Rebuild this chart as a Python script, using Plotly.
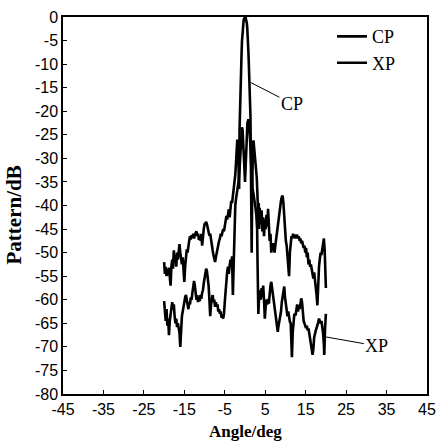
import plotly.graph_objects as go

# ---------------- data ----------------
cp_angle = [
    -20.0, -19.8, -19.6, -19.4, -19.2, -19.0, -18.8, -18.6, -18.4, -18.2,
    -18.0, -17.8, -17.6, -17.4, -17.2, -17.0, -16.8, -16.6, -16.4, -16.2,
    -16.0, -15.8, -15.6, -15.4, -15.2, -15.0, -14.8, -14.6, -14.4, -14.2,
    -14.0, -13.8, -13.6, -13.4, -13.2, -13.0, -12.8, -12.6, -12.4, -12.2,
    -12.0, -11.8, -11.6, -11.4, -11.2, -11.0, -10.8, -10.6, -10.4, -10.2,
    -10.0, -9.8, -9.6, -9.4, -9.2, -9.0, -8.8, -8.6, -8.4, -8.2,
    -8.0, -7.8, -7.6, -7.4, -7.2, -7.0, -6.8, -6.6, -6.4, -6.2,
    -6.0, -5.8, -5.6, -5.4, -5.2, -5.0, -4.8, -4.6, -4.4, -4.2,
    -4.0, -3.8, -3.6, -3.4, -3.2, -3.0, -2.8, -2.6, -2.4, -2.2,
    -2.0, -1.9, -1.75, -1.6, -1.45, -1.35, -1.25, -1.15, -1.05, -0.95,
    -0.85, -0.75, -0.65, -0.55, -0.45, -0.35, -0.25, -0.15, -0.05, 0.05,
    0.15, 0.25, 0.35, 0.45, 0.55, 0.65, 0.75, 0.85, 0.95, 1.05,
    1.15, 1.25, 1.35, 1.45, 1.55, 1.65, 1.75, 1.85, 1.95, 2.1,
    2.3, 2.5, 2.7, 2.9, 3.0, 3.1, 3.2, 3.3, 3.4, 3.5,
    3.6, 3.7, 3.9, 4.1, 4.3, 4.5, 4.7, 4.9, 5.1, 5.3,
    5.5, 5.7, 5.9, 6.1, 6.3, 6.5, 6.7, 6.9, 7.1, 7.3,
    7.5, 7.7, 7.9, 8.1, 8.3, 8.5, 8.7, 8.9, 9.1, 9.3,
    9.5, 9.7, 9.9, 10.1, 10.3, 10.5, 10.7, 10.9, 11.1, 11.3,
    11.5, 11.7, 11.9, 12.1, 12.3, 12.5, 12.7, 12.9, 13.1, 13.3,
    13.5, 13.7, 13.9, 14.1, 14.3, 14.5, 14.7, 14.9, 15.1, 15.3,
    15.5, 15.7, 15.9, 16.1, 16.3, 16.5, 16.7, 16.9, 17.1, 17.3,
    17.5, 17.7, 17.9, 18.1, 18.3, 18.5, 18.7, 18.9, 19.1, 19.3,
    19.5, 19.7, 19.85, 20.0,
]
cp_db = [
    -52.0, -54.5, -53.0, -55.0, -53.5, -54.8, -53.2, -55.5, -57.0, -53.0,
    -51.5, -53.4, -49.5, -52.0, -50.5, -53.0, -50.0, -51.5, -49.0, -48.2,
    -50.0, -51.0, -52.5, -51.0, -53.5, -56.2, -53.0, -50.5, -49.3, -50.0,
    -48.0, -47.5, -46.5, -47.2, -46.3, -46.8, -46.0, -47.0, -46.2, -45.8,
    -45.5, -46.5, -46.0, -47.3, -46.5, -47.5, -46.0, -48.5, -46.0, -45.0,
    -44.0, -43.6, -43.5, -44.0, -44.8, -45.5, -46.4, -46.0, -47.5, -48.5,
    -49.5, -50.5, -51.5, -52.0, -51.0, -50.0, -49.8, -48.5, -47.5, -47.0,
    -46.0, -46.5, -45.5, -45.0, -45.5, -44.0, -43.5, -42.2, -43.0, -41.5,
    -40.8, -42.5, -40.0, -39.0, -39.5, -37.5, -36.0, -35.0, -33.5, -30.5,
    -27.5, -26.0, -27.0, -30.0, -36.5, -24.0, -19.0, -16.0, -13.0, -10.5,
    -7.8, -5.2, -3.5, -2.3, -1.4, -0.8, -0.4, -0.15, -0.02, 0.0,
    -0.1, -0.35, -0.75, -1.3, -2.2, -3.4, -5.0, -7.5, -10.0, -12.5,
    -14.8, -17.0, -21.0, -30.0, -40.0, -50.0, -40.0, -31.0, -27.0, -26.2,
    -28.0, -30.0, -32.0, -34.0, -36.0, -40.0, -37.5, -43.0, -39.5, -45.0,
    -40.5, -41.5, -44.0, -41.0, -45.5, -42.5, -46.5, -43.0, -45.0, -42.0,
    -44.5, -40.7, -44.0, -47.5, -46.0, -50.0, -48.0, -49.5, -48.0, -50.0,
    -48.5, -47.0, -46.0, -45.0, -43.5, -42.0, -40.5, -39.0, -38.2, -37.9,
    -39.5, -42.5, -46.0, -47.5, -48.5, -50.5, -53.0, -55.0, -50.0, -47.5,
    -46.5, -47.0, -46.0, -46.8, -46.2, -47.0, -46.4, -46.4, -47.0, -46.5,
    -47.5, -47.0, -48.0, -47.5, -48.5, -49.0, -48.5, -50.0, -49.0, -51.0,
    -50.0, -52.5, -51.5, -53.0, -52.5, -53.4, -54.0, -55.5, -54.2, -55.5,
    -56.5, -59.0, -61.2, -56.0, -53.0, -51.3, -50.0, -50.5, -49.0, -48.0,
    -47.0, -49.5, -53.0, -57.5,
]

xp_angle = [
    -20.0, -19.8, -19.6, -19.4, -19.2, -19.0, -18.8, -18.6, -18.4, -18.2,
    -18.0, -17.8, -17.6, -17.4, -17.2, -17.0, -16.8, -16.6, -16.4, -16.2,
    -16.0, -15.8, -15.6, -15.4, -15.2, -15.0, -14.8, -14.6, -14.4, -14.2,
    -14.0, -13.8, -13.6, -13.4, -13.2, -13.0, -12.8, -12.6, -12.4, -12.2,
    -12.0, -11.8, -11.6, -11.4, -11.2, -11.0, -10.8, -10.6, -10.4, -10.2,
    -10.0, -9.8, -9.6, -9.4, -9.2, -9.0, -8.8, -8.6, -8.4, -8.2,
    -8.0, -7.8, -7.6, -7.4, -7.2, -7.0, -6.8, -6.6, -6.4, -6.2,
    -6.0, -5.8, -5.6, -5.4, -5.2, -5.0, -4.8, -4.6, -4.4, -4.2,
    -4.0, -3.8, -3.6, -3.4, -3.2, -3.0, -2.8, -2.6, -2.5, -2.4,
    -2.2, -2.0, -1.8, -1.6, -1.4, -1.2, -1.0, -0.85, -0.75, -0.6,
    -0.45, -0.3, -0.15, 0.0, 0.15, 0.3, 0.45, 0.6, 0.85, 1.0,
    1.2, 1.4, 1.6, 1.8, 2.0, 2.2, 2.4, 2.6, 2.8, 3.0,
    3.1, 3.2, 3.3, 3.5, 3.7, 3.9, 4.1, 4.3, 4.5, 4.7,
    4.9, 5.1, 5.3, 5.5, 5.7, 5.9, 6.1, 6.3, 6.5, 6.7,
    6.9, 7.1, 7.3, 7.5, 7.7, 7.9, 8.1, 8.3, 8.5, 8.7,
    8.9, 9.1, 9.3, 9.5, 9.7, 9.9, 10.1, 10.3, 10.5, 10.7,
    10.9, 11.1, 11.3, 11.5, 11.6, 11.8, 12.0, 12.2, 12.5, 12.7,
    12.9, 13.1, 13.3, 13.5, 13.7, 13.9, 14.1, 14.3, 14.5, 14.7,
    14.9, 15.1, 15.3, 15.5, 15.7, 15.9, 16.1, 16.3, 16.5, 16.7,
    16.9, 17.1, 17.3, 17.5, 17.7, 17.9, 18.1, 18.3, 18.5, 18.7,
    18.9, 19.1, 19.3, 19.5, 19.6, 19.8, 20.0,
]
xp_db = [
    -60.3, -62.5, -64.5, -62.0, -65.5, -64.0, -67.5, -64.5, -62.6, -61.5,
    -60.5, -62.0, -61.0, -63.5, -65.0, -64.0, -65.8, -65.0, -66.0, -67.0,
    -70.0, -66.0, -63.5, -62.5, -61.2, -60.0, -59.5, -59.0, -60.0, -61.5,
    -62.0, -60.5, -61.0, -59.5, -60.0, -58.5, -57.0, -56.0, -57.0, -58.5,
    -60.0, -59.0, -60.5, -59.5, -60.3, -59.0, -59.8, -58.5, -58.0, -56.5,
    -55.0, -53.8, -53.4, -54.0, -55.5, -57.0, -60.0, -63.5, -61.0, -59.5,
    -59.0, -60.5, -60.0, -61.5, -60.5, -61.5, -61.0, -62.5, -62.0, -63.0,
    -62.5, -63.8, -63.5, -64.0, -63.0, -60.5, -58.0, -55.0, -54.0, -53.0,
    -54.5, -52.8, -51.5, -53.0, -50.8, -59.0, -52.0, -50.0, -45.0, -40.0,
    -38.5, -37.5, -36.0, -35.0, -33.0, -30.0, -26.0, -24.0, -23.4, -24.0,
    -26.0, -29.0, -32.0, -35.0, -31.0, -27.0, -24.0, -22.5, -21.7, -22.5,
    -25.0, -29.0, -33.0, -36.0, -37.0, -38.0, -39.0, -40.5, -42.0, -45.0,
    -52.0, -58.0, -63.0, -59.0, -58.0, -60.0, -57.5, -59.5, -57.0, -60.0,
    -64.0, -61.5, -60.0, -61.0, -59.8, -60.8, -58.5, -57.0, -56.2, -57.5,
    -59.5, -61.0, -62.0, -63.5, -64.5, -66.0, -66.8, -65.5, -64.5, -64.0,
    -62.5, -60.5, -59.0, -58.0, -57.2, -59.5, -61.2, -62.0, -63.5, -62.5,
    -64.0, -64.7, -65.0, -68.0, -72.2, -67.0, -64.5, -63.0, -63.3, -62.0,
    -61.0, -62.5, -61.2, -62.0, -60.0, -59.7, -60.5, -63.0, -64.5, -65.0,
    -65.4, -66.0, -65.5, -66.5, -66.1, -67.0, -68.0, -69.0, -70.5, -71.7,
    -70.5, -68.0, -67.0, -66.5, -66.0, -65.5, -64.8, -64.0, -64.5, -65.0,
    -64.5, -65.4, -67.0, -69.5, -71.7, -66.0, -63.0,
]

series_names = ["CP", "XP"]
x_ticks = [-45, -35, -25, -15, -5, 5, 15, 25, 35, 45]
y_ticks = [0, -5, -10, -15, -20, -25, -30, -35, -40, -45, -50, -55, -60, -65, -70, -75, -80]

# label callouts: (text, point angle, point dB, label angle, label dB)
callouts = [
    ("CP", 1.43, -13.9, 11.6, -18.4),
    ("XP", 20.06, -67.9, 32.6, -69.8),
]

SERIF = "Liberation Serif, Times New Roman, serif"
SANS = "Liberation Sans, Arial, sans-serif"

fig = go.Figure()
fig.add_trace(go.Scatter(x=cp_angle, y=cp_db, mode="lines", name=series_names[0],
                         line=dict(color="black", width=2.6)))
fig.add_trace(go.Scatter(x=xp_angle, y=xp_db, mode="lines", name=series_names[1],
                         line=dict(color="black", width=2.6)))

for text, px, py, lx, ly in callouts:
    fig.add_annotation(x=px, y=py, ax=lx, ay=ly, axref="x", ayref="y",
                       xref="x", yref="y", text=text, showarrow=True,
                       arrowhead=0, arrowwidth=1, arrowcolor="black",
                       font=dict(family=SERIF, size=18, color="black"))

fig.add_annotation(x=0.5, y=0, xref="paper", yref="paper", yanchor="top",
                   yshift=-26, text="<b>Angle/deg</b>", showarrow=False,
                   font=dict(family=SERIF, size=17, color="black"))
fig.add_annotation(x=0, y=0.4735, xref="paper", yref="paper", xanchor="right",
                   xshift=-35, text="<b>Pattern/dB</b>", showarrow=False, textangle=-90,
                   font=dict(family=SERIF, size=21, color="black"))

axis_common = dict(showgrid=False, zeroline=False, showline=True, linecolor="black",
                   linewidth=1.5, mirror=True, ticks="inside", ticklen=4, tickwidth=1,
                   tickcolor="black", tickfont=dict(family=SANS, size=16, color="black"))

fig.update_layout(
    width=445, height=442,
    margin=dict(l=63, r=9, t=16, b=48),
    paper_bgcolor="white", plot_bgcolor="white",
    xaxis=dict(range=[-45, 45], tickmode="array", tickvals=x_ticks,
               ticktext=[str(v) for v in x_ticks], **axis_common),
    yaxis=dict(range=[-80, 0], tickmode="array", tickvals=y_ticks,
               ticktext=[str(v) for v in y_ticks], **axis_common),
    legend=dict(x=0.739, y=0.997, xanchor="left", yanchor="top",
                bgcolor="rgba(0,0,0,0)", borderwidth=0,
                font=dict(family=SERIF, size=18, color="black"),
                tracegroupgap=0, itemwidth=30),
    showlegend=True,
)

fig.write_html("out.html")
